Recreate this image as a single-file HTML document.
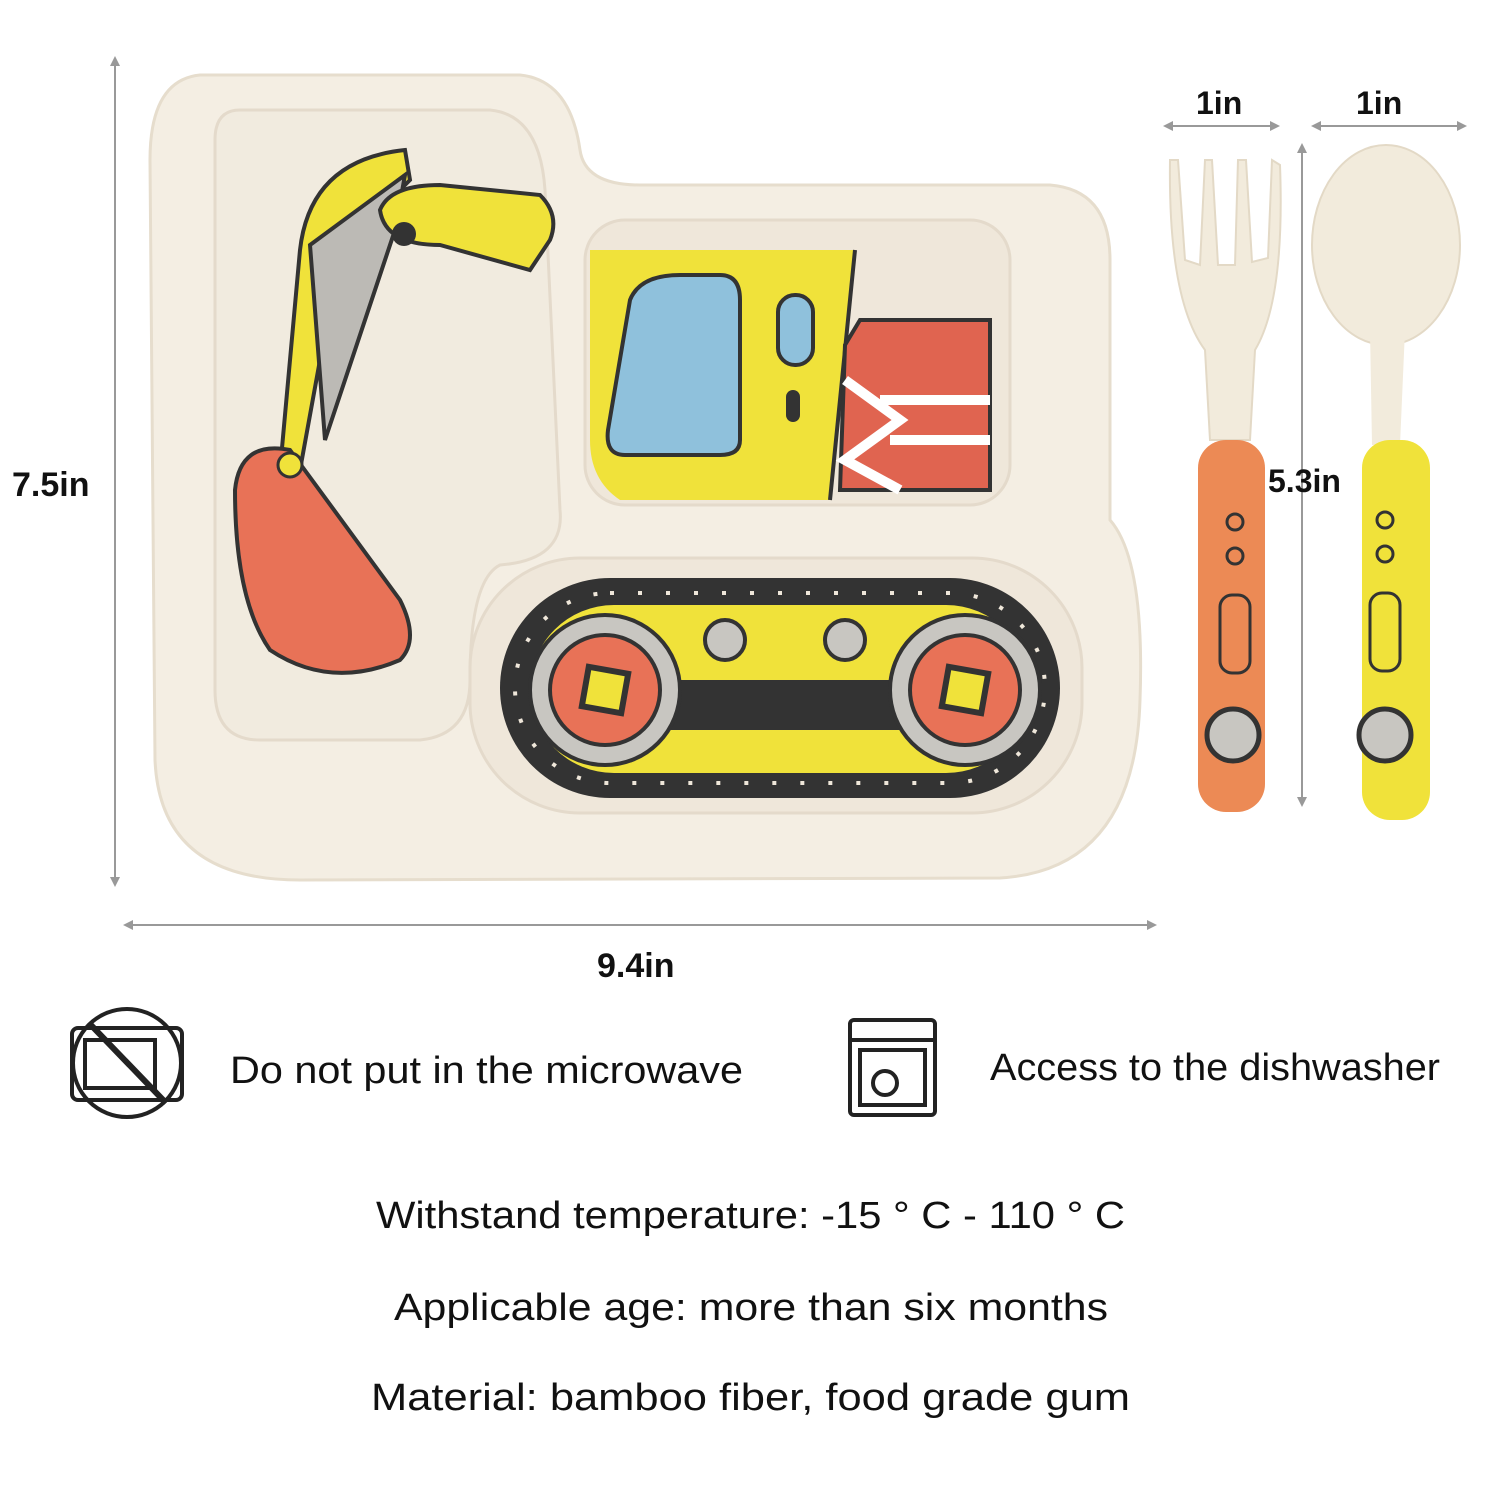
<!DOCTYPE html>
<html><head><meta charset="utf-8"><style>
html,body{margin:0;padding:0;background:#fff;width:1500px;height:1500px;overflow:hidden}
text{font-family:"Liberation Sans",sans-serif;fill:#111}
</style></head><body>
<svg width="1500" height="1500" viewBox="0 0 1500 1500" xmlns="http://www.w3.org/2000/svg">
<defs>
<marker id="ah" markerWidth="10" markerHeight="10" refX="8" refY="5" orient="auto-start-reverse" markerUnits="userSpaceOnUse">
<path d="M0,0 L10,5 L0,10 z" fill="#999"/></marker>
</defs>
<g stroke="#999" stroke-width="2" fill="none">
<line x1="115" y1="58" x2="115" y2="885" marker-start="url(#ah)" marker-end="url(#ah)"/>
<line x1="125" y1="925" x2="1155" y2="925" marker-start="url(#ah)" marker-end="url(#ah)"/>
<line x1="1165" y1="126" x2="1278" y2="126" marker-start="url(#ah)" marker-end="url(#ah)"/>
<line x1="1313" y1="126" x2="1465" y2="126" marker-start="url(#ah)" marker-end="url(#ah)"/>
<line x1="1302" y1="145" x2="1302" y2="805" marker-start="url(#ah)" marker-end="url(#ah)"/>
</g>
<g font-weight="bold" font-size="34">
<text x="12" y="496">7.5in</text>
<text x="597" y="977">9.4in</text>
<text x="1196" y="114" font-size="32">1in</text>
<text x="1356" y="114" font-size="32">1in</text>
<text x="1268" y="492" font-size="32">5.3in</text>
</g>
<path d="M200,75 L520,75 Q570,80 580,150 Q585,185 640,185 L1050,185 Q1110,190 1110,260 L1110,520 Q1145,560 1140,700 Q1135,870 1000,878 L300,880 Q160,880 155,760 L150,160 Q150,80 200,75 Z" fill="#f4eee3" stroke="#e6ddcd" stroke-width="3"/>
<path d="M240,110 L490,110 Q540,115 545,190 L560,510 Q565,560 500,565 Q470,580 470,680 Q470,735 420,740 L260,740 Q215,740 215,690 L215,140 Q215,110 240,110 Z" fill="#f1ebdf" stroke="#e4dacb" stroke-width="3"/>
<rect x="585" y="220" width="425" height="285" rx="40" fill="#efe7da" stroke="#e4dacb" stroke-width="3"/>
<rect x="470" y="558" width="612" height="255" rx="110" fill="#efe7da" stroke="#e4dacb" stroke-width="3"/>
<path d="M280,470 L300,250 Q310,160 405,150 L410,180 L340,250 L300,470 Z" fill="#f0e23a" stroke="#333" stroke-width="4"/>
<path d="M310,245 L405,175 L395,230 L325,440 Z" fill="#bcbab5" stroke="#333" stroke-width="4"/>
<path d="M380,210 Q390,185 440,185 L540,195 Q560,215 550,240 L530,270 L440,245 Q385,245 380,210 Z" fill="#f0e23a" stroke="#333" stroke-width="4"/>
<circle cx="404" cy="234" r="12" fill="#333"/>
<path d="M235,490 Q240,440 290,450 L400,600 Q420,640 400,660 Q330,690 270,650 Q235,600 235,490 Z" fill="#e87257" stroke="#333" stroke-width="4"/>
<circle cx="290" cy="465" r="12" fill="#f0e23a" stroke="#333" stroke-width="3"/>
<path d="M590,250 L855,250 L830,500 L620,500 Q590,480 590,440 Z" fill="#f0e23a"/>
<path d="M630,300 Q640,275 680,275 L720,275 Q740,275 740,300 L740,440 Q740,455 720,455 L625,455 Q605,455 608,430 Z" fill="#8fc1dc" stroke="#333" stroke-width="4"/>
<rect x="778" y="295" width="35" height="70" rx="17" fill="#8fc1dc" stroke="#333" stroke-width="4"/>
<rect x="786" y="390" width="14" height="32" rx="7" fill="#333"/>
<line x1="855" y1="250" x2="830" y2="500" stroke="#333" stroke-width="4"/>
<path d="M860,320 L990,320 L990,490 L840,490 L845,345 Z" fill="#e06450" stroke="#333" stroke-width="4"/>
<path d="M845,380 L900,420 L845,460 L900,490 M880,400 L990,400 M890,440 L990,440" stroke="#fff" stroke-width="10" fill="none"/>
<rect x="500" y="578" width="560" height="220" rx="110" fill="#333"/>
<rect x="515" y="593" width="530" height="190" rx="95" fill="none" stroke="#efe7da" stroke-width="4" stroke-dasharray="4 24"/>
<rect x="530" y="605" width="500" height="168" rx="84" fill="#f0e23a"/>
<rect x="580" y="680" width="400" height="50" fill="#333"/>
<circle cx="605" cy="690" r="75" fill="#c8c6c1" stroke="#333" stroke-width="4"/>
<circle cx="605" cy="690" r="55" fill="#e87257" stroke="#333" stroke-width="4"/>
<rect x="585" y="670" width="40" height="40" fill="#f0e23a" stroke="#333" stroke-width="6" transform="rotate(10 605 690)"/>
<circle cx="965" cy="690" r="75" fill="#c8c6c1" stroke="#333" stroke-width="4"/>
<circle cx="965" cy="690" r="55" fill="#e87257" stroke="#333" stroke-width="4"/>
<rect x="945" y="670" width="40" height="40" fill="#f0e23a" stroke="#333" stroke-width="6" transform="rotate(10 965 690)"/>
<circle cx="725" cy="640" r="20" fill="#c8c6c1" stroke="#333" stroke-width="4"/>
<circle cx="845" cy="640" r="20" fill="#c8c6c1" stroke="#333" stroke-width="4"/>
<path d="M1170,160 L1178,160 L1185,260 L1200,265 L1205,160 L1212,160 L1218,265 L1235,265 L1238,160 L1246,160 L1252,262 L1268,258 L1272,160 L1280,165 Q1285,300 1255,350 L1250,440 L1210,440 L1205,350 Q1168,300 1170,160 Z" fill="#f2ebdc" stroke="#e3d9c6" stroke-width="2"/>
<rect x="1198" y="440" width="67" height="372" rx="28" fill="#ec8a55"/>
<g fill="none" stroke="#333" stroke-width="3"><circle cx="1235" cy="522" r="8"/><circle cx="1235" cy="556" r="8"/><rect x="1220" y="595" width="30" height="78" rx="12"/></g>
<circle cx="1233" cy="735" r="26" fill="#c8c6c1" stroke="#333" stroke-width="5"/>
<ellipse cx="1386" cy="245" rx="74" ry="100" fill="#f2ebdc" stroke="#e3d9c6" stroke-width="2"/>
<path d="M1370,330 L1405,330 L1400,445 L1372,445 Z" fill="#f2ebdc"/>
<rect x="1362" y="440" width="68" height="380" rx="28" fill="#f0e23a"/>
<g fill="none" stroke="#333" stroke-width="3"><circle cx="1385" cy="520" r="8"/><circle cx="1385" cy="554" r="8"/><rect x="1370" y="593" width="30" height="78" rx="12"/></g>
<circle cx="1385" cy="735" r="26" fill="#c8c6c1" stroke="#333" stroke-width="5"/>
<g fill="none" stroke="#222" stroke-width="4">
<circle cx="127" cy="1063" r="54"/>
<rect x="72" y="1028" width="110" height="72" rx="6"/>
<rect x="85" y="1040" width="70" height="48"/>
<line x1="89" y1="1023" x2="166" y2="1103" stroke-width="6"/>
<rect x="850" y="1020" width="85" height="95" rx="4"/>
<line x1="850" y1="1040" x2="935" y2="1040"/>
<rect x="860" y="1050" width="65" height="55"/>
<circle cx="885" cy="1083" r="12"/>
</g>
<g font-size="38" font-weight="500">
<text x="230" y="1083" textLength="513" lengthAdjust="spacingAndGlyphs">Do not put in the microwave</text>
<text x="990" y="1080" textLength="450" lengthAdjust="spacingAndGlyphs">Access to the dishwasher</text>
<text x="376" y="1228" textLength="749" lengthAdjust="spacingAndGlyphs">Withstand temperature: -15 ° C - 110 ° C</text>
<text x="394" y="1320" textLength="714" lengthAdjust="spacingAndGlyphs">Applicable age: more than six months</text>
<text x="371" y="1410" textLength="759" lengthAdjust="spacingAndGlyphs">Material: bamboo fiber, food grade gum</text>
</g>
</svg>
</body></html>
